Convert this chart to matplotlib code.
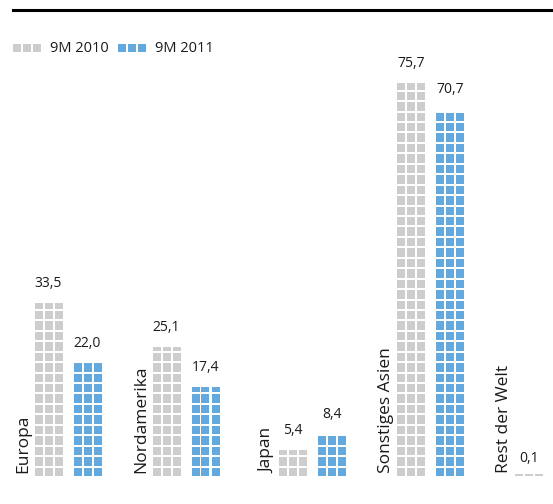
import numpy as np
import matplotlib
matplotlib.use('Agg')
import matplotlib.pyplot as plt
from matplotlib.patches import Rectangle
from matplotlib.lines import Line2D

# Umsatz nach Regionen, jeweils erste neun Monate
regionen = ['Europa', 'Nordamerika', 'Japan', 'Sonstiges Asien', 'Rest der Welt']
werte_2010 = [33.5, 25.1, 5.4, 75.7, 0.1]
werte_2011 = [22.0, 17.4, 8.4, 70.7, None]
serien = ['9M 2010', '9M 2011']

GRAU = '#cdcdcd'
BLAU = '#64a9dd'
SCHWARZ = '#1a1a1a'

plt.rcParams['font.family'] = ['Open Sans', 'DejaVu Sans']

W, H, DPI = 553, 504, 100
PX_X = 118.0    # Pixel je Kategorie
PX_Y = 5.22     # Pixel je Werteinheit
positionen = [0, 1, 2.07, 3.07, 4.07]

EINHEIT = 2.0                 # Wert je Kästchenreihe
luecke_y = 2.0 / PX_Y         # Abstand zwischen Reihen
spalte = 10.0 / PX_X          # Abstand zwischen Kästchenspalten
kasten_b = 8.0 / PX_X         # Kästchenbreite
versatz = 19.5 / PX_X         # Abstand Säule zur Gruppenmitte

fig = plt.figure(figsize=(W / DPI, H / DPI), dpi=DPI)
ax = fig.add_axes([0, 28 / H, 1, 476 / H])
ax.set_xlim(-68 / PX_X, (W - 68) / PX_X)
ax.set_ylim(0, 476 / PX_Y)
ax.axis('off')


def saeule(xc, wert, farbe):
    n_voll = int(wert // EINHEIT)
    unten = list(np.arange(n_voll) * EINHEIT)
    hoehe = [EINHEIT - luecke_y] * n_voll
    # angebrochene Reihe oben: nur wenn sie noch sichtbar ist
    rest = wert - n_voll * EINHEIT - luecke_y
    if rest >= 0.5:
        unten.append(n_voll * EINHEIT)
        hoehe.append(rest)
    elif n_voll == 0:
        unten.append(0.0)
        hoehe.append(0.35)
    for dx in (-1, 0, 1):
        ax.bar(np.full(len(unten), xc + dx * spalte), hoehe, width=kasten_b,
               bottom=unten, color=farbe, linewidth=0)
    ax.annotate(f'{wert:.1f}'.replace('.', ','), (xc, wert), xytext=(0, 10),
                textcoords='offset points', ha='center', va='baseline',
                fontsize=10, color=SCHWARZ)


for i, name in enumerate(regionen):
    x = positionen[i]
    saeule(x - versatz, werte_2010[i], GRAU)
    if werte_2011[i] is not None:
        saeule(x + versatz, werte_2011[i], BLAU)
    ax.text(x - versatz - 1.5 * spalte - 2 / PX_X, 0.5, name, rotation=90,
            ha='right', va='bottom', fontsize=12.5, color=SCHWARZ)

# Linie oben
fig.add_artist(Line2D([13 / W, 1], [1 - 10 / H, 1 - 10 / H], color='black',
                      linewidth=2.2, transform=fig.transFigure))

# Legende
for x0, farbe, label in [(13, GRAU, serien[0]), (118, BLAU, serien[1])]:
    for k in range(3):
        fig.add_artist(Rectangle(((x0 + 10 * k) / W, 1 - 52 / H), 8 / W, 8 / H,
                                 facecolor=farbe, edgecolor='none',
                                 transform=fig.transFigure))
    fig.text((x0 + 37) / W, 1 - 48 / H, label, ha='left', va='center',
             fontsize=10.5, color=SCHWARZ)

fig.savefig('out.png', dpi=DPI, facecolor='white')
